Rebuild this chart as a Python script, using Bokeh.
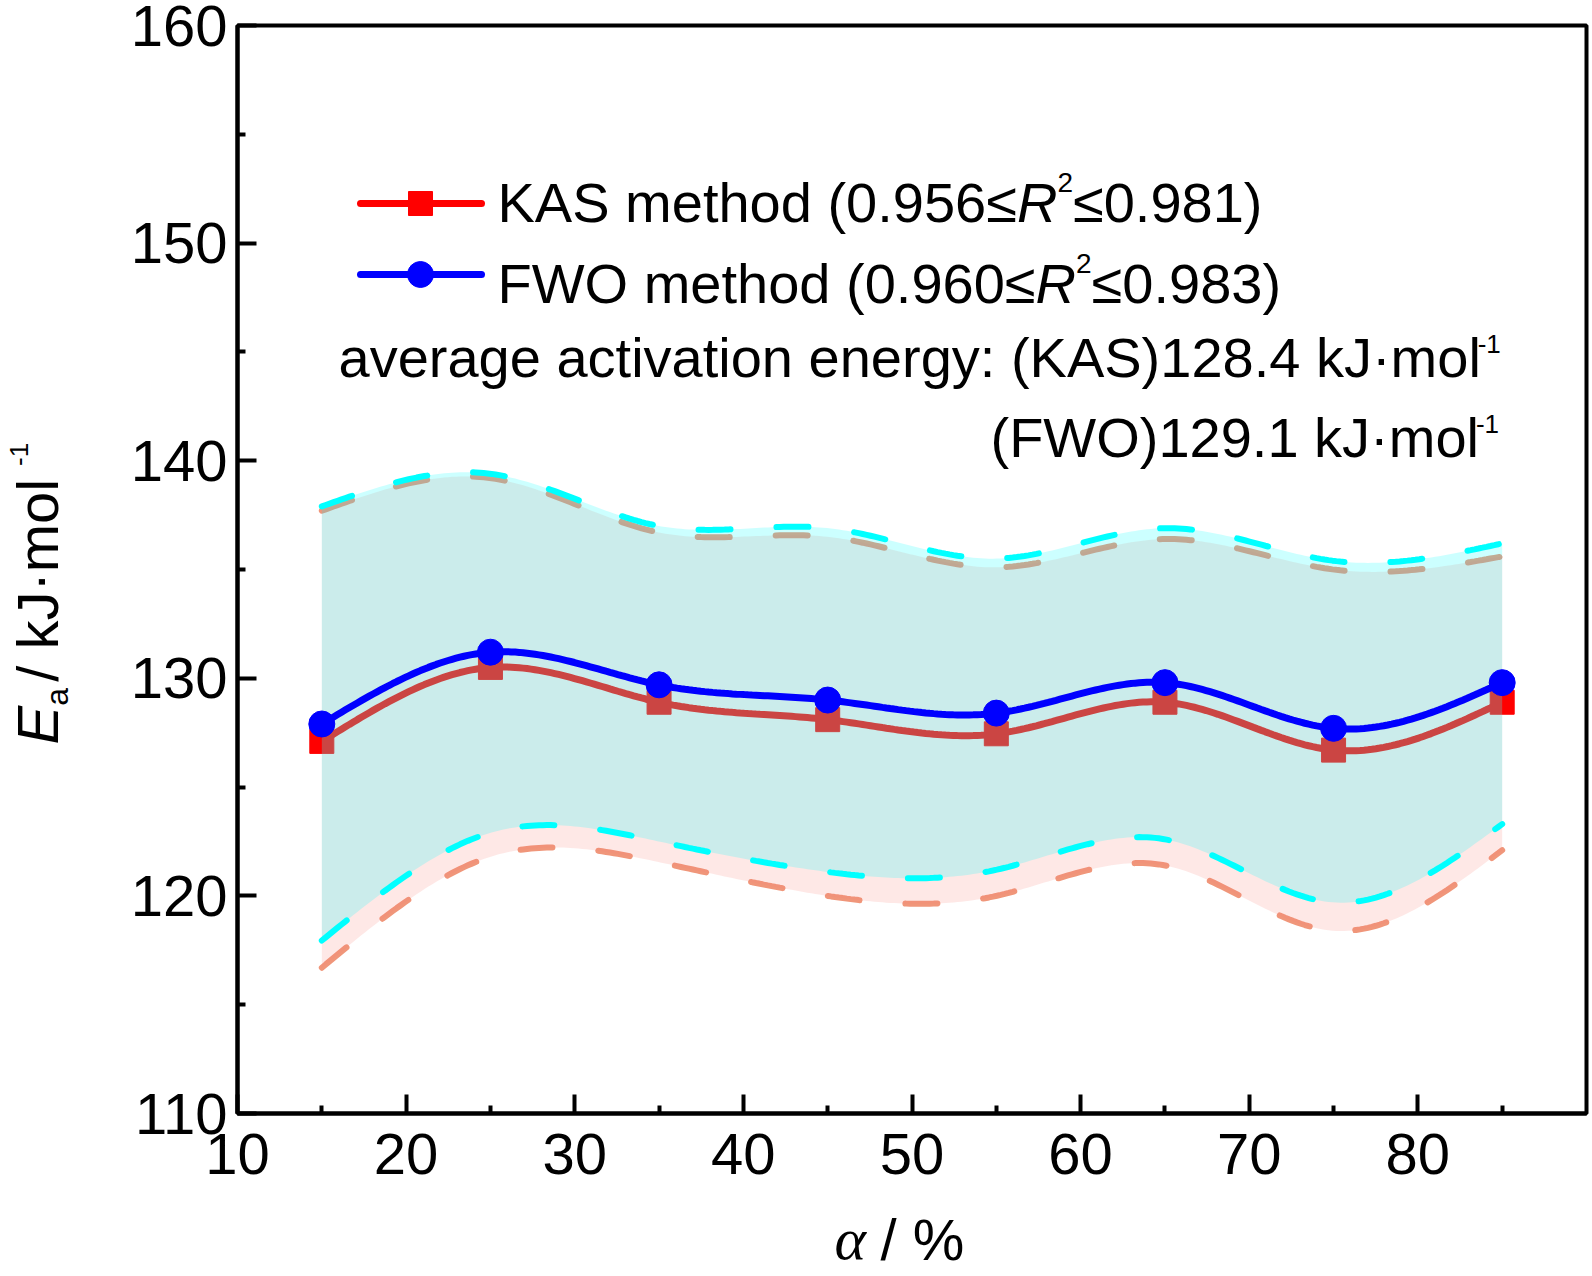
import numpy as np
from math import pi
from bokeh.plotting import figure
from bokeh.models import Range1d, FixedTicker, Label, BoxAnnotation
from bokeh.embed import file_html
from bokeh.resources import INLINE

# ---------------- data ----------------
alpha = [15, 25, 35, 45, 55, 65, 75, 85]
kas = [127.1, 130.5, 128.9, 128.1, 127.45, 128.9, 126.7, 128.9]
fwo = [127.9, 131.2, 129.7, 129.0, 128.4, 129.8, 127.7, 129.8]
kas_upper = [137.7, 139.2, 136.7, 136.5, 135.1, 136.4, 135.0, 135.6]
kas_lower = [116.7, 121.8, 121.55, 120.0, 120.0, 121.4, 118.4, 122.1]
fwo_upper = [137.9, 139.4, 137.0, 136.9, 135.5, 136.9, 135.4, 136.2]
fwo_lower = [117.95, 122.9, 122.5, 121.1, 121.2, 122.6, 119.7, 123.3]
x_ticks = [10, 20, 30, 40, 50, 60, 70, 80]
x_minor = [15, 25, 35, 45, 55, 65, 75, 85]
y_ticks = [110, 120, 130, 140, 150, 160]
y_minor = [115, 125, 135, 145, 155]

X0, X1, Y0, Y1 = 10, 90, 110, 160

SANS = "Liberation Sans"
SERIF = "Liberation Serif"
FS = 56  # main text size (px)
KB = 0.36  # baseline correction (fraction of font size)


def natural_spline(x, y, xs):
    x = np.asarray(x, float); y = np.asarray(y, float)
    n = len(x); h = np.diff(x)
    A = np.zeros((n, n)); r = np.zeros(n)
    A[0, 0] = 1; A[-1, -1] = 1
    for i in range(1, n - 1):
        A[i, i - 1] = h[i - 1]; A[i, i] = 2 * (h[i - 1] + h[i]); A[i, i + 1] = h[i]
        r[i] = 3 * ((y[i + 1] - y[i]) / h[i] - (y[i] - y[i - 1]) / h[i - 1])
    c = np.linalg.solve(A, r)
    b = (y[1:] - y[:-1]) / h - h * (2 * c[:-1] + c[1:]) / 3
    d = (c[1:] - c[:-1]) / (3 * h)
    idx = np.clip(np.searchsorted(x, xs, side="right") - 1, 0, n - 2)
    t = xs - x[idx]
    return y[idx] + b[idx] * t + c[idx] * t ** 2 + d[idx] * t ** 3


xs = np.linspace(alpha[0], alpha[-1], 300)
kas_s = natural_spline(alpha, kas, xs)
fwo_s = natural_spline(alpha, fwo, xs)
ku_s = natural_spline(alpha, kas_upper, xs)
kl_s = natural_spline(alpha, kas_lower, xs)
fu_s = natural_spline(alpha, fwo_upper, xs)
fl_s = natural_spline(alpha, fwo_lower, xs)

# ---------------- layout (page pixels) ----------------
W_FIG, H_FIG = 1592, 1276
FL, FR, FT, FB = 237, 1586, 25, 1113   # where the axes box sits


def dx(px):
    return X0 + (px - FL) * (X1 - X0) / (FR - FL)


def dy(py):
    return Y1 - (py - FT) * (Y1 - Y0) / (FB - FT)


# the plotting frame covers the whole canvas; axes are pinned at the box edges
p = figure(width=W_FIG, height=H_FIG, output_backend="svg", toolbar_location=None,
           x_range=Range1d(dx(0), dx(W_FIG)), y_range=Range1d(dy(H_FIG), dy(0)),
           min_border_left=0, min_border_right=0, min_border_top=0, min_border_bottom=0)
p.background_fill_color = "white"
p.border_fill_color = "white"
p.outline_line_color = None
p.grid.visible = False

p.xaxis.fixed_location = Y0
p.xaxis.bounds = (X0, X1)
p.yaxis.fixed_location = X0
p.yaxis.bounds = (Y0, Y1)

for ax in (p.xaxis[0], p.yaxis[0]):
    ax.axis_line_width = 4
    ax.axis_line_color = "black"
    ax.major_tick_in = 19
    ax.major_tick_out = 0
    ax.minor_tick_in = 8
    ax.minor_tick_out = 0
    ax.major_tick_line_width = 4
    ax.minor_tick_line_width = 4
    ax.major_tick_line_color = "black"
    ax.minor_tick_line_color = "black"
    ax.major_label_text_font = SANS
    ax.major_label_text_font_size = f"{FS + 2}px"
    ax.major_label_text_color = "black"
p.xaxis.ticker = FixedTicker(ticks=x_ticks, minor_ticks=x_minor)
p.yaxis.ticker = FixedTicker(ticks=y_ticks, minor_ticks=y_minor)
p.xaxis.major_label_standoff = 20
p.yaxis.major_label_standoff = 10

p.add_layout(BoxAnnotation(left=X0, right=X1, bottom=Y0, top=Y1,
                           fill_alpha=0, line_color="black", line_alpha=1.0, line_width=4))

# ---------------- series ----------------
p.line(xs, kas_s, line_color="#ff0000", line_width=7)
p.scatter(alpha, kas, marker="square", size=24, fill_color="#ff0000", line_color="#ff0000")
p.line(xs, ku_s, line_color="#f0967a", line_width=6, line_dash="32 46", line_cap="round")
p.line(xs, kl_s, line_color="#f0967a", line_width=6, line_dash="32 46", line_cap="round")
p.varea(x=xs, y1=kl_s, y2=ku_s, fill_color="#fa8072", fill_alpha=0.18)
p.varea(x=xs, y1=fl_s, y2=fu_s, fill_color="#00ffff", fill_alpha=0.2)
p.line(xs, fu_s, line_color="#00ffff", line_width=6, line_dash="32 46", line_cap="round")
p.line(xs, fl_s, line_color="#00ffff", line_width=6, line_dash="32 46", line_cap="round")
p.line(xs, fwo_s, line_color="#0000ff", line_width=7)
p.scatter(alpha, fwo, marker="circle", size=26, fill_color="#0000ff", line_color="#0000ff")

# ---------------- legend keys ----------------
p.line([dx(360), dx(481)], [dy(203), dy(203)], line_color="#ff0000", line_width=7, line_cap="round")
p.scatter([dx(420)], [dy(203)], marker="square", size=24, fill_color="#ff0000", line_color="#ff0000")
p.line([dx(360), dx(481)], [dy(274), dy(274)], line_color="#0000ff", line_width=7, line_cap="round")
p.scatter([dx(420)], [dy(274)], marker="circle", size=26, fill_color="#0000ff", line_color="#0000ff")

# ---------------- text ----------------
CW = {' ': 278, '.': 278, '(': 333, ')': 333, 'K': 667, 'A': 667, 'S': 667, 'F': 611,
      'W': 944, 'O': 778, 'R': 722, 'E': 667, 'm': 833, 'e': 556, 't': 278, 'h': 556,
      'o': 556, 'd': 556, 'a': 556, 'v': 500, 'r': 333, 'g': 556, 'c': 500, 'i': 222,
      'n': 556, 'y': 500, ':': 278, 'k': 500, 'J': 500, 'l': 222, '·': 278, '≤': 549,
      '-': 333, '/': 278, '%': 889}


def tw(s, size):
    return sum(CW.get(ch, 556) for ch in s) / 1000.0 * size


def runs(x0, y0, parts, angle=0.0):
    pos = x0 if angle == 0 else y0
    for part in parts:
        text, size, style, off = part[:4]
        font = part[4] if len(part) > 4 else SANS
        w = part[5] if len(part) > 5 else tw(text, size)
        shift = off - KB * size
        if angle == 0:
            lx, ly = dx(pos), dy(y0 + shift)
            pos += w
        else:
            lx, ly = dx(x0 + shift), dy(pos)
            pos -= w
        p.add_layout(Label(x=lx, y=ly, text=text, angle=angle,
                           text_font=font, text_font_size=f"{size}px",
                           text_font_style=style, text_color="black",
                           text_align="left", text_baseline="alphabetic"))


runs(497, 222, [("KAS method (0.956≤", FS, "normal", 0),
                ("R", FS, "italic", 0),
                ("2", 28, "normal", -30),
                ("≤0.981)", FS, "normal", 0)])
runs(497, 303, [("FWO method (0.960≤", FS, "normal", 0),
                ("R", FS, "italic", 0),
                ("2", 28, "normal", -30),
                ("≤0.983)", FS, "normal", 0)])
runs(338, 377, [("average activation energy: (KAS)128.4 kJ·mol", FS, "normal", 0),
                ("-1", 26, "normal", -24)])
runs(990, 457, [("(FWO)129.1 kJ·mol", FS, "normal", 0),
                ("-1", 26, "normal", -24)])

# x axis title
runs(834, 1260, [("α", FS + 4, "italic", 0, SERIF, 46),
                 (" / %", FS + 2, "normal", 0)])
# y axis title (rotated)
runs(58, 744, [("E", FS + 2, "italic", 0),
               ("a", 32, "normal", 10, SANS, 24),
               (" / kJ·mol", FS + 2, "normal", 0),
               ("-1", 26, "normal", -30)], angle=pi / 2)

open("out.html", "w").write(file_html(p, INLINE))
